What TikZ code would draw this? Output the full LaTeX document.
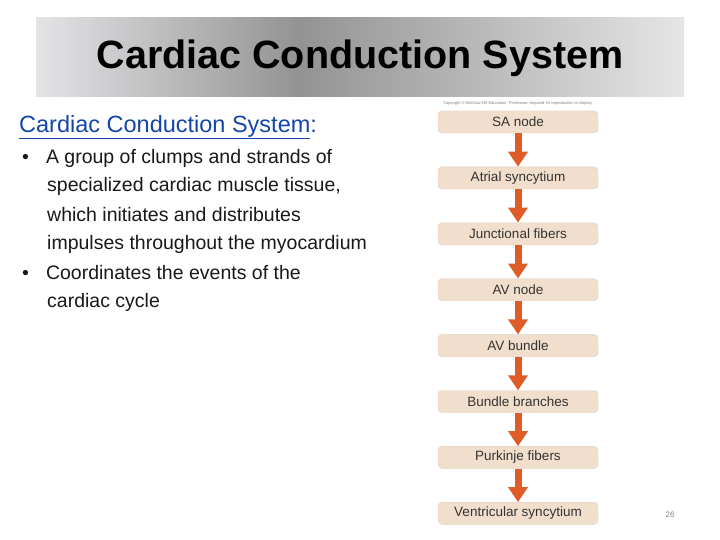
\documentclass[tikz,border=0pt]{standalone}
\usepackage{fontspec}
\setmainfont{Liberation Sans}
\usetikzlibrary{arrows.meta}
\definecolor{boxfill}{RGB}{242,222,204}
\definecolor{arrowc}{RGB}{222,92,40}
\definecolor{headblue}{RGB}{20,70,170}
\begin{document}
\begin{tikzpicture}[x=1pt,y=-1pt,
  stage/.style={draw=boxfill!85!gray,fill=boxfill,rounded corners=4pt,minimum width=160pt,minimum height=22pt,font=\fontsize{13.5}{15}\selectfont,text=black!80},
  flow/.style={draw=none,fill=arrowc,-{Triangle[width=19pt,length=15pt]},line width=7pt,shorten >=0pt},
  body/.style={anchor=west,font=\fontsize{19.5}{22}\selectfont,text=black!90,inner sep=0pt}]
\useasboundingbox (0,0) rectangle (720,540);
\fill[white] (0,0) rectangle (720,540);
\shade[left color=blue!6!gray!20, right color=gray!85] (36,18) rectangle (300,97);
\shade[left color=gray!85, right color=gray!20] (299.5,18) rectangle (684,97);
\node[font=\fontsize{39.5}{44}\selectfont\bfseries] (title) at (360,58) {Cardiac Conduction System};
\node[anchor=west,inner sep=0pt,text=headblue,font=\fontsize{23.5}{26}\selectfont] (sub) at (19,127) {\underline{Cardiac Conduction System}:};
\node[body] (b1) at (22,158) {•\hspace{17pt}A group of clumps and strands of};
\node[body] (b2) at (47,186) {specialized cardiac muscle tissue,};
\node[body] (b3) at (47,215) {which initiates and distributes};
\node[body] (b4) at (47,244) {impulses throughout the myocardium};
\node[body] (b5) at (22,273) {•\hspace{17pt}Coordinates the events of the};
\node[body] (b6) at (47,302) {cardiac cycle};
\node[font=\fontsize{4}{5}\selectfont,text=gray] (copy) at (518,103) {Copyright © McGraw-Hill Education. Permission required for reproduction or display.};
\foreach \n/\t [count=\i from 0] in {s1/SA node,s2/Atrial syncytium,s3/Junctional fibers,s4/AV node,s5/AV bundle,s6/Bundle branches,s7/Purkinje fibers,s8/Ventricular syncytium}
  \node[stage] (\n) at (518,{122+55.9*\i}) {\t};
\foreach \a/\b in {s1/s2,s2/s3,s3/s4,s4/s5,s5/s6,s6/s7,s7/s8}
  \draw[flow,draw=arrowc] (\a.south) -- (\b.north);
\node[font=\fontsize{8}{10}\selectfont,text=gray] (pg) at (670,515) {26};
\end{tikzpicture}
\end{document}
